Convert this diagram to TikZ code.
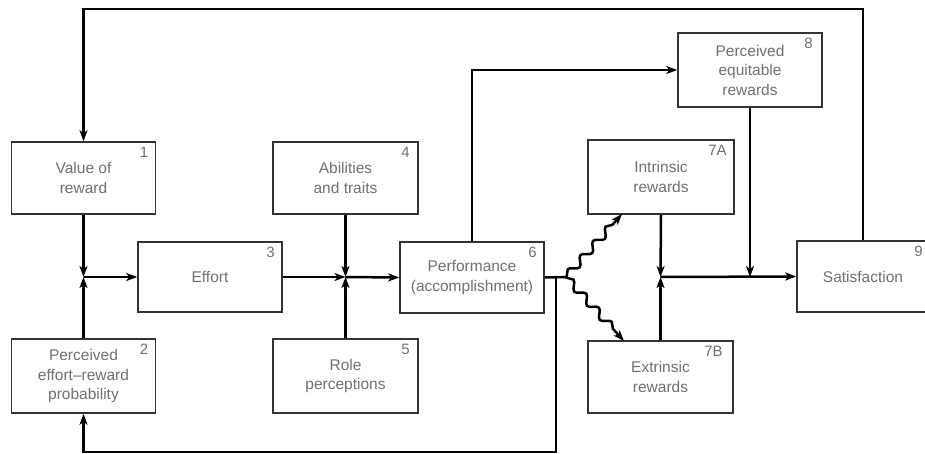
\documentclass[tikz,border=0pt]{standalone}
\usepackage{fontspec}
\setmainfont{Liberation Sans}
\usetikzlibrary{arrows.meta,decorations.pathmorphing}
\definecolor{txtgray}{HTML}{707070}
\definecolor{boxgray}{HTML}{333333}
\begin{document}
\begin{tikzpicture}[x=1pt,y=-1pt,
  box/.style={draw=boxgray, line width=1.6pt, minimum width=144pt, minimum height=72pt,
    inner sep=0pt, align=center, text=txtgray, font=\fontsize{15.5}{19.5}\selectfont},
  num/.style={anchor=north east, inner sep=0pt, text=txtgray, font=\fontsize{15}{18}\selectfont},
  conn/.style={line width=2.5pt, black},
  arr/.style={conn, -{Stealth[length=11pt,width=8pt,inset=3pt]}},
  wavy/.style={arr, decorate, decoration={snake, amplitude=3.8pt, segment length=19pt, pre length=1pt, post length=10pt}}]
\useasboundingbox (0,0) rectangle (925,454);
% boxes
\node[box] (b1) at (83.5,178) {Value of\\reward};
\node[box, minimum height=74pt] (b2) at (83.5,376) {Perceived\\effort--reward\\probability};
\node[box, minimum height=70pt] (b3) at (210,277) {Effort};
\node[box, minimum width=145pt] (b4) at (345.5,178) {Abilities\\and traits};
\node[box, minimum width=145pt, minimum height=74pt] (b5) at (345.5,376) {Role\\perceptions};
\node[box, minimum height=71pt] (b6) at (472,277.5) {Performance\\(accomplishment)};
\node[box, minimum width=146pt, minimum height=74pt] (b7a) at (661,177) {Intrinsic\\rewards};
\node[box, minimum width=145pt] (b7b) at (660.5,377) {Extrinsic\\rewards};
\node[box, minimum height=74pt] (b8) at (750,70) {Perceived\\equitable\\rewards};
\node[box, minimum width=132pt, minimum height=71pt] (b9) at (863,276.5) {Satisfaction};
% numbers
\node[num, xshift=-8pt, yshift=-6pt] (n1) at (b1.north east) {1};
\node[num, xshift=-8pt, yshift=-6pt] (n2) at (b2.north east) {2};
\node[num, xshift=-8pt, yshift=-6pt] (n3) at (b3.north east) {3};
\node[num, xshift=-9pt, yshift=-6pt] (n4) at (b4.north east) {4};
\node[num, xshift=-9pt, yshift=-6pt] (n5) at (b5.north east) {5};
\node[num, xshift=-8pt, yshift=-6pt] (n6) at (b6.north east) {6};
\node[num, xshift=-8pt, yshift=-6pt] (n7a) at (b7a.north east) {7A};
\node[num, xshift=-11pt, yshift=-6pt] (n7b) at (b7b.north east) {7B};
\node[num, xshift=-10pt, yshift=-6pt] (n8) at (b8.north east) {8};
\node[num, xshift=-7pt, yshift=-6pt] (n9) at (b9.north east) {9};
% junctions and bends
\coordinate (j1) at (83.5,277);
\coordinate (j2) at (345.5,277);
\coordinate (j3) at (660.5,277);
\coordinate (j4) at (750,277);
\coordinate (split) at (566,277);
\coordinate (bv) at (556,277);
\coordinate (br) at (556,452);
\coordinate (bl) at (83.5,452);
\coordinate (tr) at (863,9);
\coordinate (tl) at (83.5,9);
\coordinate (up6) at (472,70);
\coordinate (t7a) at (622,214);
\coordinate (t7b) at (624,341);
% connectors
\draw[arr] (b1.south) -- (j1);
\draw[arr] (b2.north) -- (j1);
\draw[arr] (j1) -- (b3.west);
\draw[arr] (b3.east) -- (j2);
\draw[arr] (b4.south) -- (j2);
\draw[arr] (b5.north) -- (j2);
\draw[arr] (j2) -- (b6.west);
\draw[arr] (b6.north) -- (up6) -- (b8.west);
\draw[conn] (b6.east) -- (split);
\draw[arr] (bv) -- (br) -- (bl) -- (b2.south);
\draw[wavy] (split) -- (t7a);
\draw[wavy] (split) -- (t7b);
\draw[arr] (b7a.south) -- (j3);
\draw[arr] (b7b.north) -- (j3);
\draw[arr] (j3) -- (b9.west);
\draw[arr] (b8.south) -- (j4);
\draw[arr] (b9.north) -- (tr) -- (tl) -- (b1.north);
\end{tikzpicture}
\end{document}
